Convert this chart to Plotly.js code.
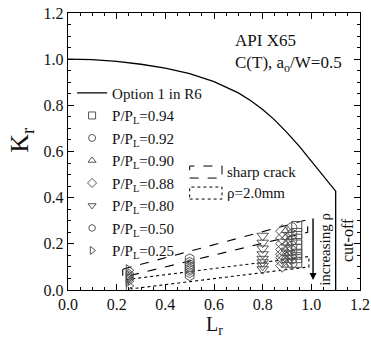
<!DOCTYPE html>
<html>
<head>
<meta charset="utf-8">
<script src="https://cdn.plot.ly/plotly-3.0.1.min.js"></script>
<style>html,body{margin:0;padding:0;background:#fff;}#chart{width:371px;height:344px;}</style>
</head>
<body>
<div id="chart"></div>
<script>
// Option 1 failure assessment curve (R6), incl. cut-off drop
const optionLr = [0, 0.1, 0.2, 0.3, 0.4, 0.5, 0.6, 0.7, 0.75, 0.8, 0.85, 0.9, 0.95, 1.0, 1.05, 1.1, 1.1];
const optionKr = [1.0, 0.998, 0.990, 0.978, 0.961, 0.937, 0.903, 0.854, 0.821, 0.782, 0.736, 0.682, 0.623, 0.559, 0.492, 0.428, 0.0];

// Assessment points: each load level, Kr values from sharp crack (top) to rho=2.0mm (bottom)
const loadLabels = ['0.94', '0.92', '0.90', '0.88', '0.80', '0.50', '0.25'];
const loadLr = [0.94, 0.92, 0.90, 0.88, 0.80, 0.50, 0.25];
const symbols = ['square-open', 'circle-open', 'triangle-up-open', 'diamond-open', 'triangle-down-open', 'hexagon-open', 'triangle-right-open'];
const kr094 = [0.275, 0.245, 0.220, 0.195, 0.175, 0.155, 0.140, 0.120];
const kr092 = [0.270, 0.240, 0.215, 0.190, 0.170, 0.150, 0.135, 0.115];
const kr090 = [0.260, 0.230, 0.205, 0.180, 0.160, 0.145, 0.130, 0.110];
const kr088 = [0.255, 0.225, 0.200, 0.175, 0.155, 0.140, 0.125, 0.105];
const kr080 = [0.235, 0.205, 0.180, 0.155, 0.135, 0.120, 0.105, 0.090];
const kr050 = [0.135, 0.120, 0.110, 0.100, 0.092, 0.085, 0.075, 0.062];
const kr025 = [0.085, 0.072, 0.064, 0.058, 0.052, 0.046, 0.038, 0.018];
const krGroups = [kr094, kr092, kr090, kr088, kr080, kr050, kr025];

// Envelopes
const sharpLr = [0.225, 0.985, 0.985, 0.225, 0.225];
const sharpKr = [0.090, 0.305, 0.250, 0.055, 0.090];
const rhoLr = [0.240, 0.990, 0.990, 0.260, 0.240];
const rhoKr = [0.045, 0.145, 0.100, 0.005, 0.045];

const FONT = '"Liberation Serif", "Times New Roman", Times, serif';
const MC = '#555555';
const traces = [];

traces.push({x: optionLr, y: optionKr, mode: 'lines', name: 'Option 1 in R6',
  line: {color: '#000', width: 1.3}, showlegend: true});

traces.push({x: sharpLr, y: sharpKr, mode: 'lines', showlegend: false,
  line: {color: '#000', width: 1.1, dash: 'dash'}});
traces.push({x: rhoLr, y: rhoKr, mode: 'lines', showlegend: false,
  line: {color: '#000', width: 1.1, dash: 'dot'}});

krGroups.forEach((g, i) => {
  traces.push({x: g.map(() => loadLr[i]), y: g, mode: 'markers', showlegend: false,
    marker: {symbol: symbols[i], size: 10, color: MC, line: {width: 1, color: MC}}});
});
loadLabels.forEach((lab, i) => {
  traces.push({x: [null], y: [null], mode: 'markers', name: 'P/P<sub>L</sub>=' + lab,
    marker: {symbol: symbols[i], size: 7, color: MC, line: {width: 1, color: MC}}});
});

const axisCommon = {
  range: [0, 1.2], dtick: 0.2, tick0: 0, tickformat: '.1f',
  ticks: 'inside', ticklen: 6, tickwidth: 1, tickcolor: '#000',
  minor: {dtick: 0.05, ticks: 'inside', ticklen: 3, tickwidth: 1, tickcolor: '#000'},
  showline: true, linecolor: '#000', linewidth: 1.2, mirror: 'allticks',
  showgrid: false, zeroline: false,
  tickfont: {family: FONT, size: 16, color: '#111'}
};

const layout = {
  width: 371, height: 344,
  margin: {l: 68, r: 11, t: 13, b: 54},
  paper_bgcolor: '#fff', plot_bgcolor: '#fff',
  font: {family: FONT, color: '#111'},
  xaxis: Object.assign({}, axisCommon),
  yaxis: Object.assign({}, axisCommon),
  showlegend: true,
  legend: {x: 0.014, y: 0.77, xanchor: 'left', yanchor: 'top', bgcolor: 'rgba(0,0,0,0)',
    font: {family: FONT, size: 15, color: '#111'}, traceorder: 'normal'},
  shapes: [
    {type: 'rect', xref: 'x', yref: 'y', x0: 0.50, x1: 0.633, y0: 0.485, y1: 0.537,
      line: {color: '#000', width: 1, dash: 'dash'}},
    {type: 'rect', xref: 'x', yref: 'y', x0: 0.50, x1: 0.633, y0: 0.394, y1: 0.446,
      line: {color: '#000', width: 1, dash: 'dot'}}
  ],
  annotations: [
    {xref: 'x', yref: 'y', x: 0.645, y: 0.511, xanchor: 'left', yanchor: 'middle', showarrow: false,
      text: 'sharp crack', font: {family: FONT, size: 15}},
    {xref: 'x', yref: 'y', x: 0.645, y: 0.42, xanchor: 'left', yanchor: 'middle', showarrow: false,
      text: 'ρ=2.0mm', font: {family: FONT, size: 15}},
    {xref: 'paper', yref: 'paper', x: 0.565, y: 0.943, xanchor: 'left', yanchor: 'top', align: 'left', showarrow: false,
      text: 'API X65<br>C(T), a<sub>o</sub>/W=0.5', font: {family: FONT, size: 17}},
    {xref: 'x', yref: 'y', x: 1.056, y: 0.178, xanchor: 'center', yanchor: 'middle', showarrow: false, textangle: -90,
      text: 'increasing ρ', font: {family: FONT, size: 15}},
    {xref: 'x', yref: 'y', x: 1.151, y: 0.217, xanchor: 'center', yanchor: 'middle', showarrow: false, textangle: -90,
      text: 'cut-off', font: {family: FONT, size: 16}},
    {xref: 'x', yref: 'y', x: 1.007, y: 0.043, axref: 'x', ayref: 'y', ax: 1.007, ay: 0.316,
      showarrow: true, arrowhead: 2, arrowsize: 1, arrowwidth: 1.4, arrowcolor: '#000', text: ''},
    {xref: 'paper', yref: 'paper', x: -0.161, y: 0.542, xanchor: 'center', yanchor: 'middle', showarrow: false, textangle: -90,
      text: 'K<sub>r</sub>', font: {family: FONT, size: 26}},
    {xref: 'paper', yref: 'paper', x: 0.5, y: -0.127, xanchor: 'center', yanchor: 'middle', showarrow: false,
      text: 'L<sub>r</sub>', font: {family: FONT, size: 20}}
  ]
};

Plotly.newPlot('chart', traces, layout, {staticPlot: true, displayModeBar: false});
</script>
</body>
</html>
